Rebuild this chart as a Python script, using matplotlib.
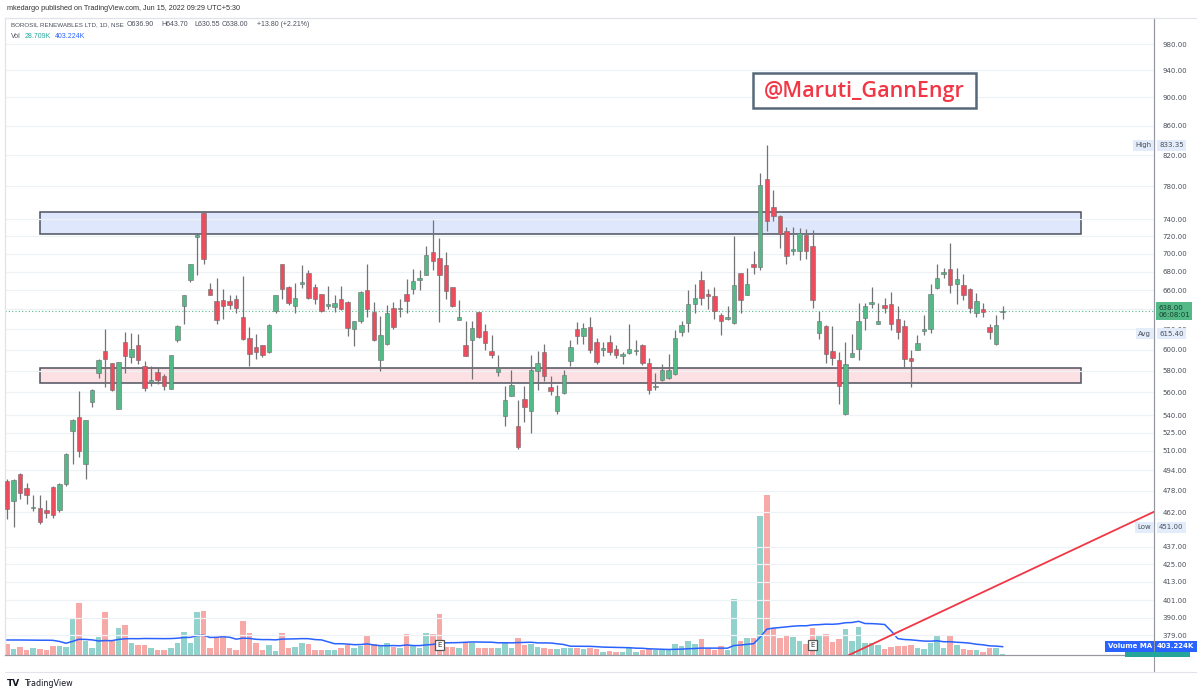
import numpy as np
import pandas as pd
import matplotlib
matplotlib.use("Agg")
import matplotlib.pyplot as plt
from matplotlib.lines import Line2D
from matplotlib.patches import Rectangle
from matplotlib.ticker import NullLocator
import matplotlib.transforms as mtransforms

# BOROSIL RENEWABLES, NSE daily bars, 3 Nov 2021 .. 15 Jun 2022
open_ = [486, 470, 491.4, 480, 465, 465, 463.5, 481, 463.5, 483,
         526, 538.5, 499, 551.5, 578, 599, 587, 545.5, 607.6, 593,
         604.5, 584.5, 569.5, 579, 575, 563.5, 609, 643, 671, 718.5,
         747.5, 661, 649, 650, 649, 651, 632, 611, 602.5, 604,
         597.5, 638, 688.5, 664, 643, 667, 678.5, 663.5, 656, 644,
         642.5, 650.5, 648, 620.5, 628, 660.5, 637, 590, 605, 641.5,
         640, 656, 661.5, 671.5, 676.5, 702, 695, 687, 663, 629.5,
         604, 609, 637, 618, 599, 579, 539, 557, 530.5, 554.5,
         544, 580, 598, 565, 544, 559.5, 589.5, 620.5, 613, 622,
         607.5, 600, 607.5, 600.5, 594, 597, 598.5, 604, 587, 564.5,
         571, 573.5, 577, 617, 626.5, 646, 670.5, 655.5, 654, 634.5,
         630, 626, 678.5, 655.5, 689, 685, 789, 755, 744, 726.5,
         703, 703.5, 721, 708.5, 616, 623.5, 599, 590, 541, 593,
         601, 631.5, 646, 625.5, 645, 646, 630, 623, 592, 600,
         618, 620, 662, 678, 682.5, 666.5, 666, 661.5, 636, 640,
         622, 605, 636.9]
high = [487, 487, 492, 484.5, 475, 475, 471, 481.5, 484, 508,
        536.5, 561, 536, 563, 590.5, 620, 587.5, 588, 617, 616,
        615, 589.5, 584.5, 582.5, 577, 595, 624, 655, 689, 722.5,
        750, 668, 673, 661, 655, 654.5, 675, 622, 615, 604.5,
        625, 655, 689, 664.5, 668, 687, 682, 666.5, 656.5, 665,
        655.5, 664.5, 648.5, 628.5, 659, 688.5, 647.5, 633, 645, 647.5,
        650.5, 672, 683, 682, 709, 739, 718, 702, 663.5, 650,
        628, 628, 637.5, 625, 614, 594.5, 566, 580.5, 553, 565.5,
        595, 599, 605, 575, 567, 581, 609, 627, 626, 632,
        611, 607.5, 614, 604, 598, 625, 609, 605, 591.5, 578,
        586, 596, 619, 628, 660, 667, 681, 661, 664, 636,
        643, 720, 679, 684, 703, 797, 833.35, 775, 744.5, 731,
        731, 729, 728, 727, 638, 624, 623, 597.5, 607, 615,
        647, 647, 664, 647, 651.5, 658, 643.5, 629, 600, 614,
        634, 667, 688, 684, 712, 684, 677, 662, 657.5, 647,
        625, 634, 643.7]
low = [457, 451, 472, 468, 462.5, 453.5, 458, 458, 462, 482,
       499, 505, 487, 547, 573.5, 565, 561, 545, 578, 587,
       586, 561.5, 565.5, 568, 562.5, 563, 607.5, 625, 669, 676.5,
       689, 655, 625, 630, 640, 636, 609, 584, 591, 592.5,
       597, 636.5, 651, 645, 636, 662, 651, 645.5, 637, 640,
       637, 639.5, 613, 603, 626, 632, 608, 579.5, 604.5, 620,
       632, 636, 656, 660.5, 676, 682, 627, 651, 642, 629,
       593.5, 572, 611, 600, 592, 575, 531, 556.5, 511, 534,
       525, 562, 570, 557.5, 541, 559, 584.5, 605, 605, 597,
       586, 594, 594.5, 591.5, 586, 596, 594.5, 585, 558.5, 562.5,
       570, 572, 575.5, 613, 617, 636, 644.5, 640.5, 630, 614,
       629, 625, 636, 655, 677, 682, 726, 738, 706, 689,
       698.5, 693, 694, 641, 610, 587, 585, 550, 540, 593,
       590, 619, 641, 625, 636, 619, 610, 583.5, 564.5, 599.5,
       614, 616, 661, 673, 657, 646, 649.5, 636, 632, 632,
       610, 604, 630.55]
close = [464.5, 486.5, 476.5, 475, 465.5, 455, 461, 460, 483.6, 507.5,
         536, 509.5, 535.5, 562.5, 590, 591, 562, 588, 593.5, 601,
         590, 564, 570, 571, 566, 594.5, 623.5, 654.5, 688.5, 721,
         694, 655, 629.5, 643, 645, 641, 610, 595.5, 597.5, 594.5,
         624, 654.5, 661, 647, 652, 668.5, 652, 650.5, 638, 644.5,
         647, 640, 621, 628, 658, 640, 609, 614, 636, 622.5,
         640.5, 649, 670, 672, 698, 692, 676.5, 659, 643, 632,
         594, 621.5, 612, 606.5, 594.5, 582, 553.5, 567, 513, 547.5,
         580.5, 587.5, 575, 561, 557, 576, 602, 613, 621, 600,
         588, 600.5, 598, 594.5, 594.5, 601, 599, 587, 562, 566,
         581, 580.5, 611, 624, 645.5, 651.5, 652, 654, 638, 628,
         632, 666, 650, 666.5, 685, 782, 738, 744, 722.5, 697.5,
         705, 724, 702.5, 650, 628.5, 595.5, 592, 566, 586, 596.5,
         628.5, 643.5, 648, 628, 641, 625.5, 617.5, 590.5, 589, 606.5,
         620, 656, 673, 679, 666, 672, 654.5, 641, 648.5, 637,
         617, 624, 638]
volume_k = [495, 257, 360, 239, 302, 270, 239, 392, 392, 374,
            1634, 2340, 617, 329, 824, 1935, 630, 1229, 1337, 527,
            450, 437, 302, 239, 239, 329, 554, 1035, 527, 1935,
            1967, 329, 797, 855, 302, 225, 1544, 1004, 554, 225,
            464, 194, 990, 329, 374, 527, 509, 239, 239, 239,
            225, 315, 450, 329, 419, 855, 495, 419, 527, 347,
            302, 932, 419, 302, 990, 945, 1845, 374, 374, 302,
            554, 554, 329, 302, 329, 329, 554, 329, 765, 464,
            495, 360, 329, 270, 270, 302, 329, 329, 270, 329,
            270, 149, 180, 149, 122, 302, 149, 212, 284, 239,
            239, 239, 509, 405, 644, 495, 707, 302, 212, 405,
            212, 2520, 617, 752, 779, 6269, 7200, 1202, 779, 869,
            797, 630, 495, 1202, 869, 932, 585, 734, 1170, 630,
            1274, 540, 540, 437, 284, 374, 405, 392, 464, 302,
            270, 554, 855, 329, 869, 464, 270, 212, 212, 135,
            329, 302, 29]
# 20-day volume MA on the first bars (history before the visible window)
vol_ma_head = [675, 675, 675, 670, 670, 665, 665, 660, 610, 530,
               610, 710, 700, 680, 630, 650, 645, 700, 730]

nse_holidays = ['2021-11-05', '2021-11-19', '2022-01-26', '2022-03-01',
                '2022-03-18', '2022-04-14', '2022-04-15', '2022-05-03']
tick_dates = ['2021-11-15', '2021-12-01', '2021-12-13', '2021-12-22', '2022-01-03',
              '2022-01-17', '2022-02-01', '2022-02-14', '2022-03-02', '2022-03-14',
              '2022-04-01', '2022-04-18', '2022-05-02', '2022-05-16', '2022-06-01',
              '2022-06-13', '2022-06-22', '2022-07-01']
tick_text = ['15', 'Dec', '13', '22', '2022', '17', 'Feb', '14', 'Mar', '14',
             'Apr', '18', 'May', '16', 'Jun', '13', '22', 'Jul']
price_ticks = [379, 390, 401, 413, 425, 437, 462, 478, 494, 510, 525, 540, 560,
               580, 600, 620, 640, 660, 680, 700, 720, 740, 780, 820, 860, 900, 940, 980]

# zones / drawings
supply_zone = (723, 748)
demand_zone = (569, 582)
zone_span = ('2021-11-11', '2022-07-01')
trend_pts = [('2022-05-13', 368), ('2022-07-18', 462)]
earnings_days = ['2022-02-08', '2022-05-05']

# trading-day index
days = pd.bdate_range('2021-11-03', '2022-09-30')
days = days[~days.isin(pd.to_datetime(nse_holidays))]
pos = {d: i for i, d in enumerate(days)}
def ix(s):
    return pos[pd.Timestamp(s)]

n = len(close)
x = np.arange(n)
o = np.array(open_); h = np.array(high); l = np.array(low); c = np.array(close)
up = c >= o

UP, DN = '#53b987', '#eb4d5c'
GRID = '#eef1f6'
TXT = '#4a4f5a'

W, H = 1200, 693
fig = plt.figure(figsize=(W / 100, H / 100), dpi=100)
fx = lambda px: px / W
fy = lambda py: 1 - py / H

ax_v = fig.add_axes([fx(5), fy(655), fx(1154) - fx(5), fy(18) - fy(655)])
ax_p = ax_v.twinx()
ax_p.patch.set_visible(False)

xmin, xmax = (5 - 7) / 6.55, (1154 - 7) / 6.55
ax_v.set_xlim(xmin, xmax)
ax_p.set_xlim(xmin, xmax)

# volume pane
vol = pd.Series(volume_k, dtype=float)
vol_ma = vol.rolling(20).mean()
vol_ma.iloc[:len(vol_ma_head)] = vol_ma_head
ax_v.bar(x, vol, width=0.85, color=np.where(up, '#92d2cc', '#f7a9a7'), zorder=2)
ax_v.plot(x, vol_ma, color='#2962ff', lw=1.1, zorder=3)
ax_v.set_ylim(0, 637 * 45)
ax_v.set_yticks([])
ax_v.grid(axis='x', color=GRID, lw=0.9)
ax_v.set_axisbelow(True)

# price pane
ax_p.set_yscale('log')
ax_p.set_ylim(367.2, 1022.4)
ax_p.yaxis.set_minor_locator(NullLocator())
ax_p.set_yticks(price_ticks)
ax_p.set_yticklabels(['' if t == 640 else f'{t:.2f}' for t in price_ticks])
ax_p.tick_params(axis='y', length=0, pad=6, labelsize=5, labelcolor=TXT)
ax_p.grid(axis='y', color=GRID, lw=0.9)

x0z, x1z = ix(zone_span[0]), ix(zone_span[1])
ax_p.add_patch(Rectangle((x0z, supply_zone[0]), x1z - x0z, supply_zone[1] - supply_zone[0],
                         fc='#dfe7fc', ec='#4d5260', lw=1.1, zorder=1))
ax_p.add_patch(Rectangle((x0z, demand_zone[0]), x1z - x0z, demand_zone[1] - demand_zone[0],
                         fc='#fde0e3', ec='#4d5260', lw=1.1, zorder=1))

# candles
ax_p.vlines(x, l, h, color='#737375', lw=0.9, zorder=3)
body_lo = np.minimum(o, c)
body_h = np.maximum(np.abs(c - o), body_lo * 0.0025)
ax_p.bar(x, body_h, bottom=body_lo, width=0.68, color=np.where(up, UP, DN),
         edgecolor='#6d6d70', linewidth=0.4, zorder=4)

# last price line
ax_p.axhline(c[-1], color=UP, lw=0.8, ls=(0, (1, 2)), zorder=2)

# trend line
ax_p.axline((ix(trend_pts[0][0]), trend_pts[0][1]), (ix(trend_pts[1][0]), trend_pts[1][1]),
            color='#f23645', lw=1.3, zorder=5)

# x axis
ax_v.set_xticks([ix(d) for d in tick_dates])
ax_v.set_xticklabels(tick_text)
ax_v.tick_params(axis='x', length=0, pad=4, labelsize=5, labelcolor=TXT)
for lab in ax_v.get_xticklabels():
    if lab.get_text() == '2022':
        lab.set_fontweight('bold')
ax_p.set_xticks([])

for sp in ['top', 'left']:
    ax_v.spines[sp].set_color('#e0e3eb')
    ax_p.spines[sp].set_color('#e0e3eb')
for sp in ['bottom', 'right']:
    ax_v.spines[sp].set_color('#9598a1')
    ax_p.spines[sp].set_color('#9598a1')

# earnings markers
for d in earnings_days:
    ax_v.text(ix(d), 0.011, 'E', transform=mtransforms.blended_transform_factory(ax_v.transData, ax_v.transAxes),
              ha='center', va='bottom', fontsize=5, color='#333', zorder=6,
              bbox=dict(boxstyle='square,pad=0.3', fc='white', ec='#555', lw=0.9))

# right axis tags
tr = mtransforms.blended_transform_factory(ax_p.transAxes, ax_p.transData)
def tag(y, txt, fc, tc, xa, ha='left', size=5):
    ax_p.text(xa, y, txt, transform=tr, ha=ha, va='center', fontsize=size, color=tc,
              clip_on=False, zorder=10,
              bbox=dict(boxstyle='square,pad=0.35', fc=fc, ec='none'))

tag(833.35, 'High', '#e3ecfb', TXT, 0.9975, ha='right')
tag(833.35, '833.35', '#e3ecfb', TXT, 1.0045)
tag(615.40, 'Avg', '#e3ecfb', TXT, 0.9975, ha='right')
tag(615.40, '615.40', '#e3ecfb', TXT, 1.0045)
tag(451.00, 'Low', '#e3ecfb', TXT, 0.9975, ha='right')
tag(451.00, '451.00', '#e3ecfb', TXT, 1.0045)
tag(c[-1], f'{c[-1]:.2f}\n06:08:01', UP, '#15402b', 1.0035, size=5)

fig.patches.append(Rectangle((fx(1125), fy(657)), fx(1190) - fx(1125), fy(651) - fy(657),
                             transform=fig.transFigure, fc='#26a69a', ec='none', zorder=9))
fig.text(fx(1152), fy(646.5), 'Volume MA', ha='right', va='center', fontsize=5, color='white',
         fontweight='bold', zorder=11, bbox=dict(boxstyle='square,pad=0.35', fc='#2962ff', ec='none'))
fig.text(fx(1157), fy(646.5), '403.224K', ha='left', va='center', fontsize=5, color='white',
         fontweight='bold', zorder=11, bbox=dict(boxstyle='square,pad=0.35', fc='#2962ff', ec='none'))

# frame lines
fig.add_artist(Line2D([fx(1154), fx(1154)], [fy(655), fy(672)], color='#9598a1', lw=0.8))
fig.add_artist(Line2D([fx(5), fx(1196)], [fy(672), fy(672)], color='#e0e3eb', lw=0.8))
fig.add_artist(Line2D([fx(1154), fx(1196)], [fy(18), fy(18)], color='#e0e3eb', lw=0.8))

# watermark handle
fig.patches.append(Rectangle((fx(753), fy(108)), fx(976) - fx(753), fy(73) - fy(108),
                             transform=fig.transFigure, fc='white', ec='#56687a', lw=1.8, zorder=8))
fig.text(fx(864), fy(91), '@Maruti_GannEngr', ha='center', va='center', fontsize=15.5,
         color='#f23645', zorder=9, family='Open Sans', fontweight='semibold')

# header and legend
fig.text(fx(7), fy(9), 'mkedargo published on TradingView.com, Jun 15, 2022 09:29 UTC+5:30',
         fontsize=5.2, color='#333', va='center', family='Liberation Sans')
leg = [(11, 'BOROSIL RENEWABLES LTD, 1D, NSE', 4.5), (127, 'O636.90', 5.0), (161, 'H643.70', 5.0),
       (194, 'L630.55', 5.0), (222, 'C638.00', 5.0), (257, '+13.80 (+2.21%)', 5.0)]
for px, s, fs in leg:
    fig.text(fx(px), fy(25), s, fontsize=fs, color=TXT, va='center', family='Liberation Sans')
fig.text(fx(11), fy(36), 'Vol', fontsize=5.0, color=TXT, va='center', family='Liberation Sans')
fig.text(fx(25), fy(36), '28.709K', fontsize=5.0, color='#26a69a', va='center', family='Liberation Sans')
fig.text(fx(55), fy(36), '403.224K', fontsize=5.0, color='#2962ff', va='center', family='Liberation Sans')

# logo
fig.text(fx(7), fy(683), 'TV', fontsize=6.5, fontweight='bold', color='#131722', va='center')
fig.text(fx(24), fy(683), 'TradingView', fontsize=5.8, color='#131722', va='center')

fig.savefig('out.png', dpi=100)
